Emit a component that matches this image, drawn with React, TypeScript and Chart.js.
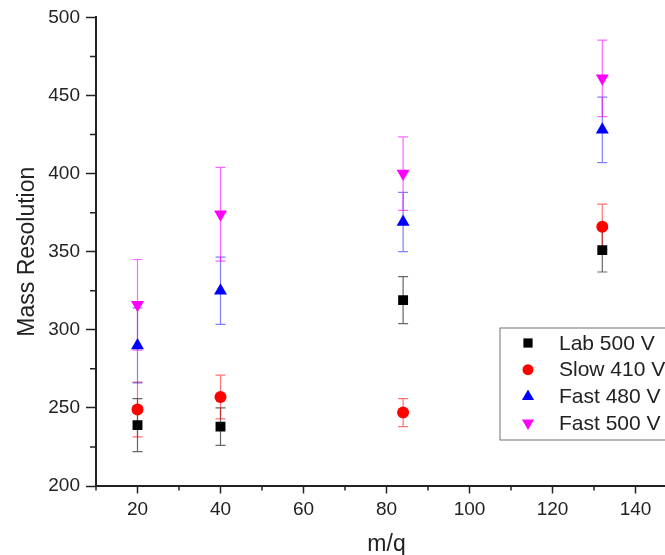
import React, { useEffect, useRef } from 'react';
import { Chart, registerables } from 'chart.js';

Chart.register(...registerables);

const xValues = [20, 40, 84, 132];
const seriesLabels = ['Lab 500 V', 'Slow 410 V', 'Fast 480 V', 'Fast 500 V'];
const lab500 = [239, 238, 319, 351];
const lab500Err = [17, 12, 15, 14];
const slow410 = [249, 257, 247, 366];
const slow410Err = [17.5, 14, 9, 14.5];
const fast480 = [290, 325, 369, 428];
const fast480Err = [24, 21.5, 19, 21];
const fast500 = [316, 374, 400, 461];
const fast500Err = [29, 30, 23.5, 24.5];
const xTicks = [20, 40, 60, 80, 100, 120, 140];
const xMinorTicks = [10, 30, 50, 70, 90, 110, 130, 150];
const yMinorTicks = [225, 275, 325, 375, 425, 475];

const FONT = '"Liberation Sans", Arial, sans-serif';
const AXIS = '#222';

const styles = [
  { color: '#000000', err: 'rgba(0,0,0,0.6)', shape: 'rect', radius: 7, rotation: 0 },
  { color: '#ff0000', err: 'rgba(255,0,0,0.55)', shape: 'circle', radius: 6, rotation: 0 },
  { color: '#0000ff', err: 'rgba(0,0,255,0.5)', shape: 'triangle', radius: 7.5, rotation: 0 },
  { color: '#ff00ff', err: 'rgba(255,0,255,0.6)', shape: 'triangle', radius: 7.5, rotation: 180 },
];
const values = [lab500, slow410, fast480, fast500];
const errors = [lab500Err, slow410Err, fast480Err, fast500Err];

const errorBarPlugin = {
  id: 'errorBars',
  beforeDatasetsDraw(chart: any) {
    const { ctx } = chart;
    const xs = chart.scales.x;
    const ys = chart.scales.y;
    ctx.save();
    ctx.lineWidth = 1.2;
    values.forEach((vals, i) => {
      ctx.strokeStyle = styles[i].err;
      vals.forEach((v, j) => {
        const px = xs.getPixelForValue(xValues[j]);
        const t = ys.getPixelForValue(v + errors[i][j]);
        const b = ys.getPixelForValue(v - errors[i][j]);
        ctx.beginPath();
        ctx.moveTo(px, t);
        ctx.lineTo(px, b);
        ctx.moveTo(px - 5, t);
        ctx.lineTo(px + 5, t);
        ctx.moveTo(px - 5, b);
        ctx.lineTo(px + 5, b);
        ctx.stroke();
      });
    });
    ctx.restore();
  },
};

function drawMarker(ctx: CanvasRenderingContext2D, shape: string, x: number, y: number, r: number, rot: number) {
  ctx.beginPath();
  if (shape === 'rect') {
    const s = r * Math.SQRT1_2;
    ctx.rect(x - s, y - s, 2 * s, 2 * s);
  } else if (shape === 'circle') {
    ctx.arc(x, y, r, 0, Math.PI * 2);
  } else {
    let rad = (rot * Math.PI) / 180;
    ctx.moveTo(x + Math.sin(rad) * r, y - Math.cos(rad) * r);
    rad += (2 * Math.PI) / 3;
    ctx.lineTo(x + Math.sin(rad) * r, y - Math.cos(rad) * r);
    rad += (2 * Math.PI) / 3;
    ctx.lineTo(x + Math.sin(rad) * r, y - Math.cos(rad) * r);
    ctx.closePath();
  }
  ctx.fill();
}

const extrasPlugin = {
  id: 'extras',
  afterDraw(chart: any) {
    const { ctx, chartArea } = chart;
    const xs = chart.scales.x;
    const ys = chart.scales.y;
    ctx.save();
    ctx.strokeStyle = AXIS;
    ctx.lineWidth = 1.5;
    ctx.beginPath();
    yMinorTicks.forEach((v) => {
      const py = ys.getPixelForValue(v);
      ctx.moveTo(chartArea.left, py);
      ctx.lineTo(chartArea.left - 6, py);
    });
    xMinorTicks.forEach((v) => {
      const px = xs.getPixelForValue(v);
      ctx.moveTo(px, chartArea.bottom);
      ctx.lineTo(px, chartArea.bottom + 4.5);
    });
    ctx.stroke();

    // legend
    const bx = 500, by = 328, bw = 220, bh = 112;
    ctx.fillStyle = '#fff';
    ctx.fillRect(bx, by, bw, bh);
    ctx.strokeStyle = '#888';
    ctx.lineWidth = 1.2;
    ctx.strokeRect(bx, by, bw, bh);
    ctx.font = `21px ${FONT}`;
    ctx.textBaseline = 'middle';
    ctx.textAlign = 'left';
    seriesLabels.forEach((lab, i) => {
      const cy = by + 15 + i * 26.7;
      ctx.fillStyle = styles[i].color;
      drawMarker(ctx, styles[i].shape, 528, cy, styles[i].radius - 0.5, styles[i].rotation);
      ctx.fillStyle = '#222';
      ctx.fillText(lab, 559, cy + 1);
    });
    ctx.restore();
  },
};

export default function App() {
  const ref = useRef<HTMLCanvasElement>(null);
  useEffect(() => {
    if (!ref.current) return;
    const chart = new Chart(ref.current, {
      type: 'scatter',
      data: {
        datasets: values.map((vals, i) => ({
          label: seriesLabels[i],
          data: vals.map((v, j) => ({ x: xValues[j], y: v })),
          pointStyle: styles[i].shape as any,
          pointRadius: styles[i].radius,
          pointHoverRadius: styles[i].radius,
          pointRotation: styles[i].rotation,
          backgroundColor: styles[i].color,
          borderColor: styles[i].color,
          borderWidth: 0,
          showLine: false,
        })),
      },
      options: {
        responsive: false,
        devicePixelRatio: 1,
        animation: false,
        layout: { padding: { left: 0, top: 17, right: 43, bottom: 0 } },
        plugins: { legend: { display: false }, tooltip: { enabled: false } },
        scales: {
          x: {
            type: 'linear',
            min: 10,
            max: 150,
            afterBuildTicks: (s: any) => {
              s.ticks = xTicks.map((v) => ({ value: v }));
            },
            afterFit: (s: any) => {
              s.height = 84;
            },
            grid: { display: true, drawOnChartArea: false, drawTicks: true, tickLength: 7.5, tickWidth: 1.5, tickColor: AXIS },
            border: { display: true, width: 2, color: AXIS },
            ticks: { font: { family: FONT, size: 19 }, color: '#222', padding: 5, maxRotation: 0 },
            title: { display: true, text: 'm/q', font: { family: FONT, size: 23 }, color: '#222', padding: { top: 0, bottom: 12 } },
          },
          y: {
            type: 'linear',
            min: 200,
            max: 500,
            ticks: { stepSize: 50, font: { family: FONT, size: 19 }, color: '#222', padding: 6 },
            afterFit: (s: any) => {
              s.width = 96;
            },
            grid: { display: true, drawOnChartArea: false, drawTicks: true, tickLength: 10, tickWidth: 1.5, tickColor: AXIS },
            border: { display: true, width: 2, color: AXIS },
            title: { display: true, text: 'Mass Resolution', font: { family: FONT, size: 23 }, color: '#222', padding: { top: 14, bottom: 0 } },
          },
        },
      },
      plugins: [errorBarPlugin, extrasPlugin],
    });
    return () => chart.destroy();
  }, []);
  return (
    <div style={{ position: 'fixed', left: 0, top: 0, width: 665, height: 555, overflow: 'hidden', background: '#fff' }}>
      <canvas ref={ref} width={720} height={570} style={{ display: 'block', width: 720, height: 570 }} />
    </div>
  );
}
